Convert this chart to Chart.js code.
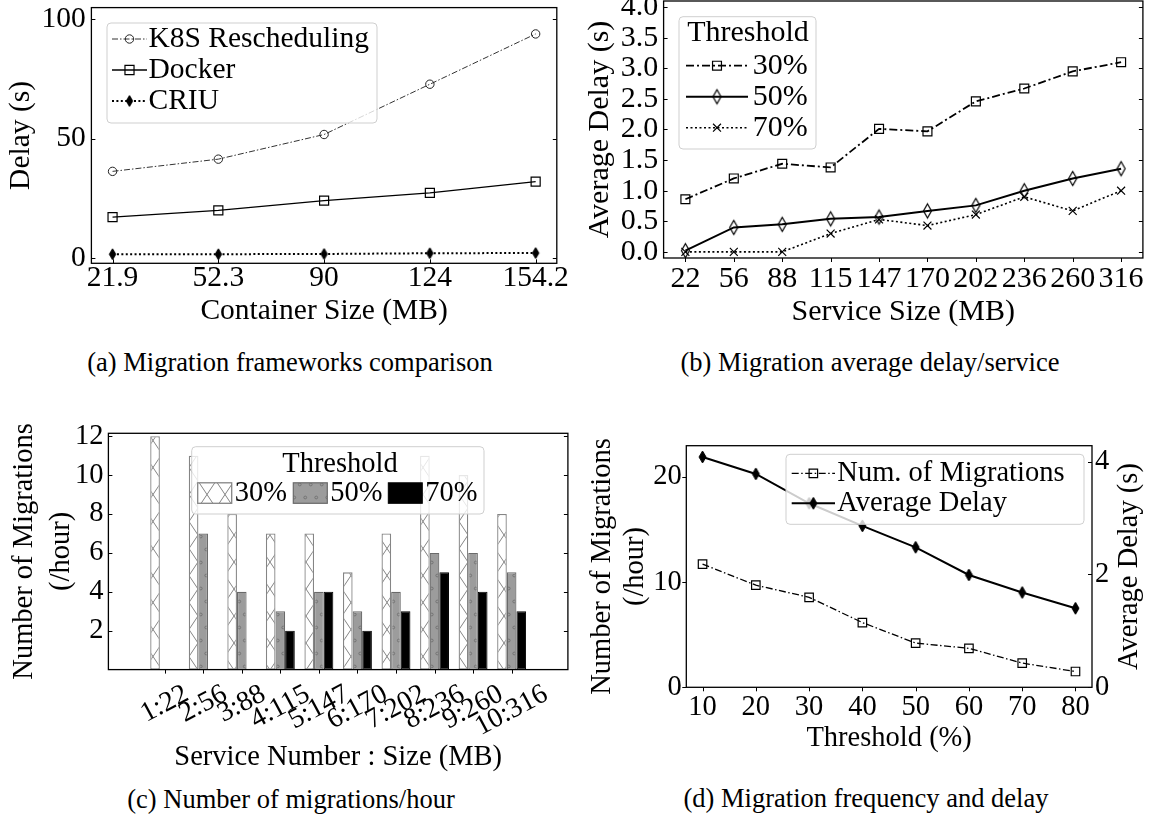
<!DOCTYPE html>
<html lang="en">
<head>
<meta charset="UTF-8">
<title>Migration results</title>
<script src="https://cdn.jsdelivr.net/npm/chart.js@4.4.1/dist/chart.umd.min.js"></script>
<style>
  html, body { margin: 0; padding: 0; background: #fff; }
  .page {
    position: relative; width: 1155px; height: 823px; overflow: hidden; background: #fff;
    font-family: 'Liberation Serif', 'Times New Roman', serif; color: #000;
  }
  .page canvas { position: absolute; }
  .caption {
    position: absolute; font-size: 26.5px; line-height: 30px; white-space: nowrap;
    transform: translateX(-50%);
  }
</style>
</head>
<body>
<div class="page">
  <canvas id="chartA" width="578" height="330" style="left:0;top:0"></canvas>
  <canvas id="chartB" width="577" height="360" style="left:578px;top:-30px"></canvas>
  <canvas id="chartC" width="578" height="380" style="left:0;top:400px"></canvas>
  <canvas id="chartD" width="577" height="360" style="left:578px;top:400px"></canvas>
  <div class="caption" style="left:290px;top:347px">(a) Migration frameworks comparison</div>
  <div class="caption" style="left:870px;top:347px">(b) Migration average delay/service</div>
  <div class="caption" style="left:291px;top:784px">(c) Number of migrations/hour</div>
  <div class="caption" style="left:866px;top:783px">(d) Migration frequency and delay</div>
</div>
<script>
// (a) migration frameworks
const aSizes = ['21.9', '52.3', '90', '124', '154.2'];
const aK8s = [36.3, 41.4, 51.7, 72.7, 93.7];
const aDocker = [17.2, 20.0, 24.1, 27.3, 32.0];
const aCriu = [1.7, 1.7, 1.8, 2.1, 2.2];
const aYTicks = [0, 50, 100];

// (b) average delay per service
const bSizes = ['22', '56', '88', '115', '147', '170', '202', '236', '260', '316'];
const b30 = [0.86, 1.20, 1.44, 1.38, 2.01, 1.97, 2.46, 2.67, 2.95, 3.10];
const b50 = [0.02, 0.40, 0.45, 0.54, 0.57, 0.67, 0.76, 1.00, 1.20, 1.36];
const b70 = [0.00, 0.00, 0.00, 0.30, 0.53, 0.43, 0.61, 0.90, 0.67, 1.00];
const bYTicks = [0, 0.5, 1, 1.5, 2, 2.5, 3, 3.5, 4];

// (c) migrations per hour
const cServices = ['1:22', '2:56', '3:88', '4:115', '5:147', '6:170', '7:202', '8:236', '9:260', '10:316'];
const c30 = [12, 11, 8, 7, 7, 5, 7, 11, 10, 8];
const c50 = [0, 7, 4, 3, 4, 3, 4, 6, 6, 5];
const c70 = [0, 0, 0, 2, 4, 2, 3, 5, 4, 3];
const cYTicks = [2, 4, 6, 8, 10, 12];

// (d) frequency and delay
const dThresholds = [10, 20, 30, 40, 50, 60, 70, 80];
const dMigrations = [11.7, 9.7, 8.55, 6.15, 4.2, 3.7, 2.3, 1.5];
const dDelay = [4.08, 3.78, 3.26, 2.86, 2.48, 1.99, 1.68, 1.40];
const dYTicks = [0, 10, 20];
const dY1Ticks = [0, 2, 4];

const SERIF = "'Liberation Serif', 'Times New Roman', serif";
Chart.defaults.font.family = SERIF;
Chart.defaults.color = '#000';
Chart.defaults.animation = false;
Chart.defaults.plugins.legend.display = false;
Chart.defaults.plugins.tooltip.enabled = false;

// ---- markers and hatches ----
function thinDiamond(w, h, fill, lw) {
  const c = document.createElement('canvas');
  c.width = Math.ceil(w + 2 * lw + 2);
  c.height = Math.ceil(h + 2 * lw + 2);
  const g = c.getContext('2d');
  const cx = c.width / 2, cy = c.height / 2;
  g.beginPath();
  g.moveTo(cx, cy - h / 2);
  g.lineTo(cx + w / 2, cy);
  g.lineTo(cx, cy + h / 2);
  g.lineTo(cx - w / 2, cy);
  g.closePath();
  if (fill) { g.fillStyle = fill; g.fill(); }
  g.lineWidth = lw;
  g.strokeStyle = '#000';
  g.stroke();
  return c;
}

function makePattern(w, h, bg, draw) {
  const c = document.createElement('canvas');
  c.width = w; c.height = h;
  const g = c.getContext('2d');
  g.fillStyle = bg;
  g.fillRect(0, 0, w, h);
  draw(g);
  return g.createPattern(c, 'repeat');
}

const crossHatch = makePattern(18, 27, '#fff', g => {
  g.strokeStyle = '#858585';
  g.lineWidth = 1;
  g.beginPath();
  g.moveTo(-18, -27); g.lineTo(36, 54);
  g.moveTo(36, -27); g.lineTo(-18, 54);
  g.stroke();
});
const dotHatch = makePattern(11, 26, '#9c9c9c', g => {
  g.strokeStyle = '#6f6f6f';
  g.lineWidth = 0.9;
  [[2.75, 6.5], [8.25, 19.5]].forEach(([x, y]) => {
    g.beginPath(); g.arc(x, y, 1.4, 0, Math.PI * 2); g.stroke();
  });
});

// ---- helpers ----
function indexTicks(labels) {
  return s => { s.ticks = labels.map((_, i) => ({ value: i })); };
}
function fixedTicks(values) {
  return s => { s.ticks = values.map(v => ({ value: v })); };
}
function fixWidth(w) {
  return s => { s.width = w; s.paddingTop = 0; s.paddingBottom = 0; };
}
function fixHeight(h) {
  return s => { s.height = h; s.paddingLeft = 0; s.paddingRight = 0; };
}
function pts(arr) { return arr.map((v, i) => ({ x: i, y: v })); }

function roundBox(ctx, x, y, w, h, r) {
  ctx.beginPath();
  ctx.moveTo(x + r, y);
  ctx.lineTo(x + w - r, y); ctx.quadraticCurveTo(x + w, y, x + w, y + r);
  ctx.lineTo(x + w, y + h - r); ctx.quadraticCurveTo(x + w, y + h, x + w - r, y + h);
  ctx.lineTo(x + r, y + h); ctx.quadraticCurveTo(x, y + h, x, y + h - r);
  ctx.lineTo(x, y + r); ctx.quadraticCurveTo(x, y, x + r, y);
  ctx.closePath();
  ctx.fillStyle = 'rgba(255,255,255,0.8)';
  ctx.fill();
  ctx.strokeStyle = '#cfcfcf';
  ctx.lineWidth = 1;
  ctx.stroke();
}

function drawMarker(ctx, ds, x, y) {
  const st = ds.pointStyle;
  if (st instanceof HTMLCanvasElement) {
    ctx.drawImage(st, x - st.width / 2, y - st.height / 2);
    return;
  }
  const r = ds.pointRadius;
  ctx.save();
  ctx.setLineDash([]);
  ctx.lineWidth = ds.pointBorderWidth;
  ctx.strokeStyle = ds.pointBorderColor;
  ctx.fillStyle = ds.pointBackgroundColor;
  ctx.beginPath();
  if (st === 'circle') {
    ctx.arc(x, y, r, 0, Math.PI * 2);
  } else if (st === 'rect') {
    const s = r * Math.SQRT1_2;
    ctx.rect(x - s, y - s, 2 * s, 2 * s);
  } else if (st === 'crossRot') {
    const s = r * Math.SQRT1_2;
    ctx.moveTo(x - s, y - s); ctx.lineTo(x + s, y + s);
    ctx.moveTo(x + s, y - s); ctx.lineTo(x - s, y + s);
  }
  ctx.fill();
  ctx.stroke();
  ctx.restore();
}

function drawLineLegend(chart, L) {
  const ctx = chart.ctx;
  roundBox(ctx, L.box[0], L.box[1], L.box[2], L.box[3], 4);
  ctx.font = L.size + 'px ' + SERIF;
  ctx.fillStyle = '#000';
  ctx.textBaseline = 'middle';
  if (L.title) {
    ctx.textAlign = 'center';
    ctx.fillText(L.title, L.titleX, L.titleY);
  }
  ctx.textAlign = 'left';
  chart.data.datasets.forEach((ds, i) => {
    const y = L.y0 + i * L.dy;
    ctx.save();
    ctx.strokeStyle = ds.borderColor;
    ctx.lineWidth = ds.borderWidth;
    ctx.setLineDash(ds.borderDash || []);
    ctx.beginPath();
    ctx.moveTo(L.x0, y);
    ctx.lineTo(L.x0 + L.len, y);
    ctx.stroke();
    ctx.restore();
    drawMarker(ctx, ds, L.x0 + L.len / 2, y);
    ctx.fillStyle = '#000';
    ctx.fillText(ds.label, L.textX, y);
  });
}

function drawBarLegend(chart, L) {
  const ctx = chart.ctx;
  roundBox(ctx, L.box[0], L.box[1], L.box[2], L.box[3], 4);
  ctx.font = L.size + 'px ' + SERIF;
  ctx.fillStyle = '#000';
  ctx.textBaseline = 'middle';
  ctx.textAlign = 'center';
  ctx.fillText(L.title, L.titleX, L.titleY);
  ctx.textAlign = 'left';
  chart.data.datasets.forEach((ds, i) => {
    const x = L.xs[i];
    ctx.fillStyle = ds.backgroundColor;
    ctx.fillRect(x, L.y, L.w, L.h);
    ctx.strokeStyle = ds.borderColor;
    ctx.lineWidth = ds.borderWidth;
    ctx.strokeRect(x, L.y, L.w, L.h);
    ctx.fillStyle = '#000';
    ctx.fillText(ds.label, x + L.w + 3, L.y + L.h / 2);
  });
}

// frame, tick marks, legends and extra labels
const paper = {
  id: 'paper',
  afterDraw(chart, args, opts) {
    const ctx = chart.ctx, a = chart.chartArea;
    ctx.save();
    ctx.strokeStyle = '#000';
    ctx.lineWidth = 1;
    (opts.marks || []).forEach(m => {
      const sc = chart.scales[m.scale];
      const k = m.dir === 'in' ? 1 : -1, len = 4;
      sc.ticks.forEach(t => {
        const p = Math.round(sc.getPixelForValue(t.value)) + 0.5;
        ctx.beginPath();
        if (m.edge === 'left') { ctx.moveTo(a.left, p); ctx.lineTo(a.left + k * len, p); }
        if (m.edge === 'right') { ctx.moveTo(a.right, p); ctx.lineTo(a.right - k * len, p); }
        if (m.edge === 'bottom') { ctx.moveTo(p, a.bottom); ctx.lineTo(p, a.bottom - k * len); }
        ctx.stroke();
      });
    });
    ctx.lineWidth = 1.3;
    ctx.strokeRect(a.left, a.top, a.right - a.left, a.bottom - a.top);

    if (opts.lineLegend) drawLineLegend(chart, opts.lineLegend);
    if (opts.barLegend) drawBarLegend(chart, opts.barLegend);

    if (opts.rotated) {
      const R = opts.rotated, sc = chart.scales.x;
      const ang = R.angle * Math.PI / 180;
      ctx.font = R.size + 'px ' + SERIF;
      ctx.fillStyle = '#000';
      ctx.textAlign = 'center';
      ctx.textBaseline = 'middle';
      sc.ticks.forEach(t => {
        const label = R.labels[t.value];
        const w = ctx.measureText(label).width, h = R.size * 0.8;
        const bh = w * Math.sin(ang) + h * Math.cos(ang);
        const x = sc.getPixelForValue(t.value);
        const y = a.bottom + R.gap + bh / 2;
        ctx.save();
        ctx.translate(x, y);
        ctx.rotate(-ang);
        ctx.fillText(label, 0, 0);
        ctx.restore();
      });
    }
    if (opts.sideTitle) {
      const S = opts.sideTitle;
      ctx.font = S.size + 'px ' + SERIF;
      ctx.fillStyle = '#000';
      ctx.textAlign = 'center';
      ctx.textBaseline = 'middle';
      ctx.translate(S.x, (a.top + a.bottom) / 2);
      ctx.rotate(-Math.PI / 2);
      ctx.fillText(S.text, 0, 0);
    }
    ctx.restore();
  }
};

const noGrid = { display: false, drawTicks: false };
const noBorder = { display: false };

// ---------- (a) ----------
new Chart(document.getElementById('chartA'), {
  type: 'line',
  data: {
    datasets: [
      { label: 'K8S Rescheduling', data: pts(aK8s), borderColor: '#333', borderWidth: 1,
        borderDash: [6, 2, 1.5, 2], pointStyle: 'circle', pointRadius: 4.2, pointBorderWidth: 1,
        pointBorderColor: '#222', pointBackgroundColor: 'rgba(0,0,0,0)' },
      { label: 'Docker', data: pts(aDocker), borderColor: '#000', borderWidth: 1.4,
        pointStyle: 'rect', pointRadius: 6.4, pointBorderWidth: 1.2,
        pointBorderColor: '#000', pointBackgroundColor: 'rgba(0,0,0,0)' },
      { label: 'CRIU', data: pts(aCriu), borderColor: '#000', borderWidth: 2,
        borderDash: [2, 2.4], pointStyle: thinDiamond(6.5, 11, '#000', 1), pointRadius: 5,
        pointBorderColor: '#000', pointBackgroundColor: '#000' }
    ]
  },
  options: {
    responsive: false,
    layout: { padding: { top: 7, right: 21.2, left: 0, bottom: 0 } },
    scales: {
      x: {
        type: 'linear', min: -0.2, max: 4.2,
        afterBuildTicks: indexTicks(aSizes), afterFit: fixHeight(66.7),
        grid: noGrid, border: noBorder,
        ticks: { autoSkip: false, maxRotation: 0, minRotation: 0, padding: 0.3,
                 font: { size: 29.5, lineHeight: 1 }, callback: v => aSizes[v] },
        title: { display: true, text: 'Container Size (MB)', font: { size: 29.5 }, padding: { top: 0, bottom: 0.6 } }
      },
      y: {
        min: -2.1, max: 104.7,
        afterBuildTicks: fixedTicks(aYTicks), afterFit: fixWidth(91.4),
        grid: noGrid, border: noBorder,
        ticks: { autoSkip: false, padding: 5.6, font: { size: 29.5, lineHeight: 1 } },
        title: { display: true, text: 'Delay (s)', font: { size: 29.5 }, padding: { top: 4, bottom: 0 } }
      }
    },
    plugins: {
      paper: {
        marks: [{ scale: 'x', edge: 'bottom', dir: 'in' }, { scale: 'y', edge: 'left', dir: 'in' },
                { scale: 'y', edge: 'right', dir: 'in' }],
        lineLegend: { box: [107, 23, 270, 100], size: 29.5, x0: 112, len: 35, textX: 148.5, y0: 39, dy: 31 }
      }
    }
  },
  plugins: [paper]
});

// ---------- (b) ----------
new Chart(document.getElementById('chartB'), {
  type: 'line',
  data: {
    datasets: [
      { label: '30%', data: pts(b30), borderColor: '#000', borderWidth: 1.8,
        borderDash: [8, 3, 2, 3], pointStyle: 'rect', pointRadius: 6.3, pointBorderWidth: 1.2,
        pointBorderColor: '#000', pointBackgroundColor: 'rgba(0,0,0,0)' },
      { label: '50%', data: pts(b50), borderColor: '#000', borderWidth: 2,
        pointStyle: thinDiamond(8, 14, null, 1.2), pointRadius: 5,
        pointBorderColor: '#000', pointBackgroundColor: 'rgba(0,0,0,0)' },
      { label: '70%', data: pts(b70), borderColor: '#000', borderWidth: 1.6,
        borderDash: [2, 2.5], pointStyle: 'crossRot', pointRadius: 5.6, pointBorderWidth: 1.2,
        pointBorderColor: '#000', pointBackgroundColor: 'rgba(0,0,0,0)' }
    ]
  },
  options: {
    responsive: false,
    layout: { padding: { top: 31, right: 12.1, left: 0, bottom: 0 } },
    scales: {
      x: {
        type: 'linear', min: -0.45, max: 9.45,
        afterBuildTicks: indexTicks(bSizes), afterFit: fixHeight(72),
        grid: noGrid, border: noBorder,
        ticks: { autoSkip: false, maxRotation: 0, minRotation: 0, padding: 6.2,
                 font: { size: 30, lineHeight: 1 }, callback: v => bSizes[v] },
        title: { display: true, text: 'Service Size (MB)', font: { size: 30 }, padding: { top: 0, bottom: 0.3 } }
      },
      y: {
        min: -0.1, max: 4.1,
        afterBuildTicks: fixedTicks(bYTicks), afterFit: fixWidth(85.6),
        grid: noGrid, border: noBorder,
        ticks: { autoSkip: false, padding: 5.3, font: { size: 30, lineHeight: 1 }, callback: v => v.toFixed(1) },
        title: { display: true, text: 'Average Delay (s)', font: { size: 30 }, padding: { top: 4, bottom: 0 } }
      }
    },
    plugins: {
      paper: {
        marks: [{ scale: 'x', edge: 'bottom', dir: 'out' }, { scale: 'y', edge: 'left', dir: 'in' },
                { scale: 'y', edge: 'right', dir: 'in' }],
        lineLegend: { box: [101, 46.7, 137, 132.3], size: 30, title: 'Threshold', titleX: 170, titleY: 63.5,
                      x0: 108, len: 62, textX: 174.7, y0: 95.7, dy: 31 }
      }
    }
  },
  plugins: [paper]
});

// ---------- (c) ----------
new Chart(document.getElementById('chartC'), {
  type: 'bar',
  data: {
    datasets: [
      { label: '30%', data: pts(c30), backgroundColor: crossHatch, borderColor: '#858585', borderWidth: 1.3 },
      { label: '50%', data: pts(c50), backgroundColor: dotHatch, borderColor: '#6a6a6a', borderWidth: 1.2 },
      { label: '70%', data: pts(c70), backgroundColor: '#000', borderColor: '#000', borderWidth: 1 }
    ]
  },
  options: {
    responsive: false,
    categoryPercentage: 0.75,
    barPercentage: 1,
    borderSkipped: false,
    layout: { padding: { top: 33.3, right: 10.1, left: 0, bottom: 0 } },
    scales: {
      x: {
        type: 'linear', min: -0.864, max: 9.864,
        afterBuildTicks: indexTicks(cServices), afterFit: fixHeight(110.4),
        grid: noGrid, border: noBorder,
        ticks: { display: false },
        title: { display: true, text: 'Service Number : Size (MB)', font: { size: 28.5 }, padding: { top: 0, bottom: 4.9 } }
      },
      y: {
        min: 0, max: 12.15,
        afterBuildTicks: fixedTicks(cYTicks), afterFit: fixWidth(108.4),
        grid: noGrid, border: noBorder,
        ticks: { autoSkip: false, padding: 4.8, font: { size: 28.5, lineHeight: 1 } },
        title: { display: true, text: ['Number of Migrations', '(/hour)'], font: { size: 28.5, lineHeight: 1.3 },
                 padding: { top: 5.5, bottom: 0 } }
      }
    },
    plugins: {
      paper: {
        marks: [{ scale: 'x', edge: 'bottom', dir: 'out' }, { scale: 'y', edge: 'left', dir: 'in' },
                { scale: 'y', edge: 'right', dir: 'in' }],
        barLegend: { box: [191.7, 46.7, 292.3, 67.3], size: 28.5, title: 'Threshold', titleX: 340, titleY: 65,
                     xs: [197.7, 293.3, 388.3], y: 82.8, w: 34, h: 20.5 },
        rotated: { labels: cServices, angle: 28, size: 28, gap: 13 }
      }
    }
  },
  plugins: [paper]
});

// ---------- (d) ----------
new Chart(document.getElementById('chartD'), {
  type: 'line',
  data: {
    datasets: [
      { label: 'Num. of Migrations', yAxisID: 'y',
        data: dThresholds.map((t, i) => ({ x: t, y: dMigrations[i] })),
        borderColor: '#000', borderWidth: 1.3, borderDash: [7, 2.5, 1.5, 2.5],
        pointStyle: 'rect', pointRadius: 6, pointBorderWidth: 1.2,
        pointBorderColor: '#000', pointBackgroundColor: 'rgba(0,0,0,0)' },
      { label: 'Average Delay', yAxisID: 'y1',
        data: dThresholds.map((t, i) => ({ x: t, y: dDelay[i] })),
        borderColor: '#000', borderWidth: 2,
        pointStyle: thinDiamond(7, 12, '#000', 1), pointRadius: 5,
        pointBorderColor: '#000', pointBackgroundColor: '#000' }
    ]
  },
  options: {
    responsive: false,
    layout: { padding: { top: 45.7, right: 0, left: 0, bottom: 0 } },
    scales: {
      x: {
        type: 'linear', min: 6.95, max: 83.1,
        afterBuildTicks: fixedTicks(dThresholds), afterFit: fixHeight(72.7),
        grid: noGrid, border: noBorder,
        ticks: { autoSkip: false, maxRotation: 0, minRotation: 0, padding: 5.9, font: { size: 28.5, lineHeight: 1 } },
        title: { display: true, text: 'Threshold (%)', font: { size: 28.5 }, padding: { top: 0, bottom: 4.4 } }
      },
      y: {
        position: 'left', min: 0, max: 22.95,
        afterBuildTicks: fixedTicks(dYTicks), afterFit: fixWidth(108.3),
        grid: noGrid, border: noBorder,
        ticks: { autoSkip: false, padding: 4.6, font: { size: 28.5, lineHeight: 1 } },
        title: { display: true, text: ['Number of Migrations', '(/hour)'], font: { size: 28.5, lineHeight: 1.16 },
                 padding: { top: 7.5, bottom: 0 } }
      },
      y1: {
        position: 'right', min: 0, max: 4.28,
        afterBuildTicks: fixedTicks(dY1Ticks), afterFit: fixWidth(63),
        grid: noGrid, border: noBorder,
        ticks: { autoSkip: false, padding: 3, font: { size: 28.5, lineHeight: 1 } }
      }
    },
    plugins: {
      paper: {
        marks: [{ scale: 'x', edge: 'bottom', dir: 'out' }, { scale: 'y', edge: 'left', dir: 'out' },
                { scale: 'y1', edge: 'right', dir: 'in' }],
        lineLegend: { box: [208, 54.3, 298, 70], size: 28.5, x0: 213.7, len: 43.3, textX: 259.3, y0: 73.3, dy: 30 },
        sideTitle: { text: 'Average Delay (s)', x: 552, size: 28.5 }
      }
    }
  },
  plugins: [paper]
});
</script>
</body>
</html>
